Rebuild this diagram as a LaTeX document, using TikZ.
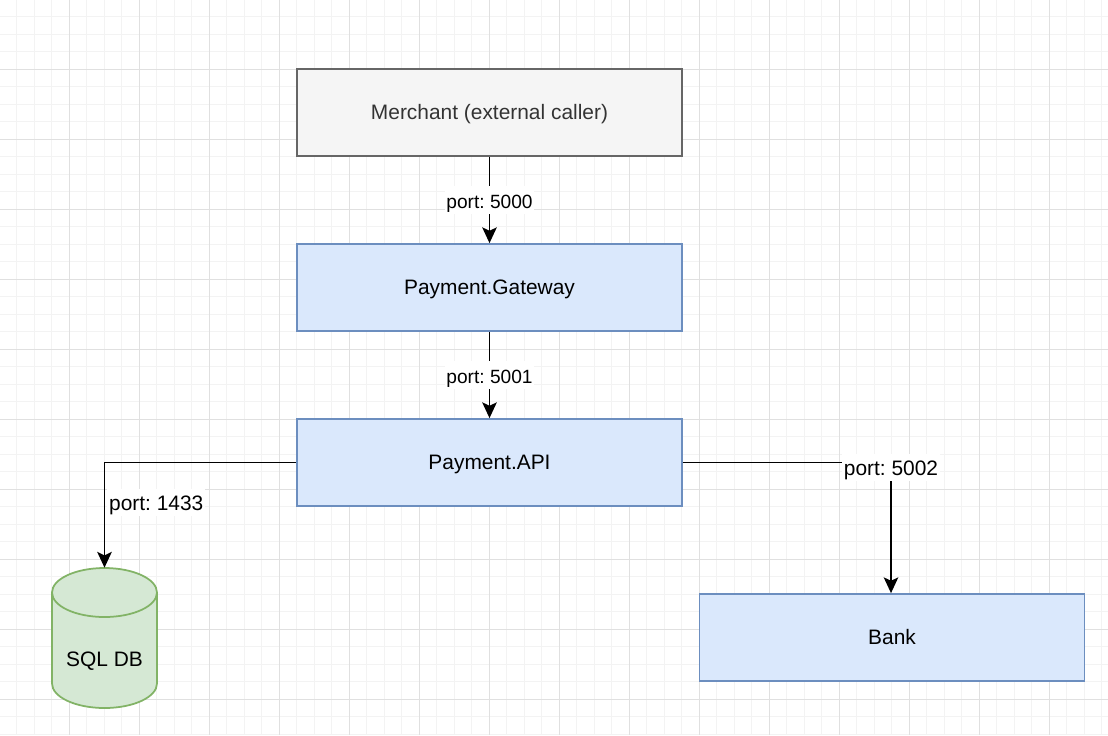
\documentclass[tikz,border=0pt]{standalone}
\usepackage{fontspec}
\setmainfont{Liberation Sans}
\frenchspacing
\usetikzlibrary{arrows.meta}
\definecolor{minorgrid}{HTML}{F3F3F3}
\definecolor{majorgrid}{HTML}{E0E0E0}
\definecolor{greyfill}{HTML}{F5F5F5}
\definecolor{greyline}{HTML}{666666}
\definecolor{greytext}{HTML}{333333}
\definecolor{bluefill}{HTML}{DAE8FC}
\definecolor{blueline}{HTML}{6C8EBF}
\definecolor{greenfill}{HTML}{D5E8D4}
\definecolor{greenline}{HTML}{82B366}
\tikzset{
  boxtext/.style={font=\fontsize{11.9}{14}\selectfont, text height=1em, text depth=0.2em},
  service/.style={boxtext, draw=blueline, fill=bluefill, line width=1pt, minimum width=7.7cm, minimum height=1.74cm},
  caller/.style={service, draw=greyline, fill=greyfill, text=greytext},
  store/.style={minimum width=2.1cm, minimum height=2.8cm, inner sep=0pt},
  link/.style={line width=1pt, -{Stealth[length=9pt, width=8.3pt, inset=2pt]}},
  port/.style={fill=white, inner sep=1pt, font=\fontsize{10.9}{13}\selectfont, text height=1.14em, text depth=0.21em},
  sideport/.style={port, font=\fontsize{11.9}{14}\selectfont}
}
\begin{document}
\begin{tikzpicture}[x=0.02cm, y=-0.02cm]
\useasboundingbox (0,0) rectangle (1108,735);
\fill[white] (0,0) rectangle (1108,735);
% grid
\foreach \i in {0,...,63} \draw[minorgrid, line width=0.6pt] ({17.5*\i-0.7},0) -- ++(0,735);
\foreach \i in {0,...,42} \draw[minorgrid, line width=0.6pt] (0,{17.5*\i-0.7}) -- ++(1108,0);
\foreach \i in {1,...,15} \draw[majorgrid, line width=0.6pt] ({70*\i-0.7},0) -- ++(0,735);
\foreach \i in {1,...,10} \draw[majorgrid, line width=0.6pt] (0,{70*\i-0.7}) -- ++(1108,0);

\node[caller] (merchant) at (489.5,112.5) {Merchant (external caller)};
\node[service] (gateway) at (489.5,287.5) {Payment.Gateway};
\node[service] (api) at (489.5,462.5) {Payment.API};
\node[service] (bank) at (892,637.5) {Bank};
\node[store] (db) at (104.5,638) {};
% cylinder
\filldraw[draw=greenline, fill=greenfill, line width=1pt] (52,592.5) -- (52,683.5) arc[start angle=180, end angle=0, x radius=52.5, y radius=24.5] -- (157,592.5) arc[start angle=0, end angle=-180, x radius=52.5, y radius=24.5] -- cycle;
\draw[greenline, line width=1pt] (52,592.5) arc[start angle=180, end angle=0, x radius=52.5, y radius=24.5];
\node[boxtext] (dblabel) at (104.5,659) {SQL DB};

\draw[link] (merchant) -- node[port] (p5000) {port: 5000} (gateway);
\draw[link] (gateway) -- node[port] (p5001) {port: 5001} (api);
\draw[link] (api.west) -| node[sideport, pos=0.69, anchor=west, xshift=0.04cm] (p1433) {port: 1433} (db.north);
\draw[link] (api.east) -| node[sideport, yshift=-0.1cm] (p5002) {port: 5002} (bank.north -| 891,0);
\end{tikzpicture}
\end{document}
